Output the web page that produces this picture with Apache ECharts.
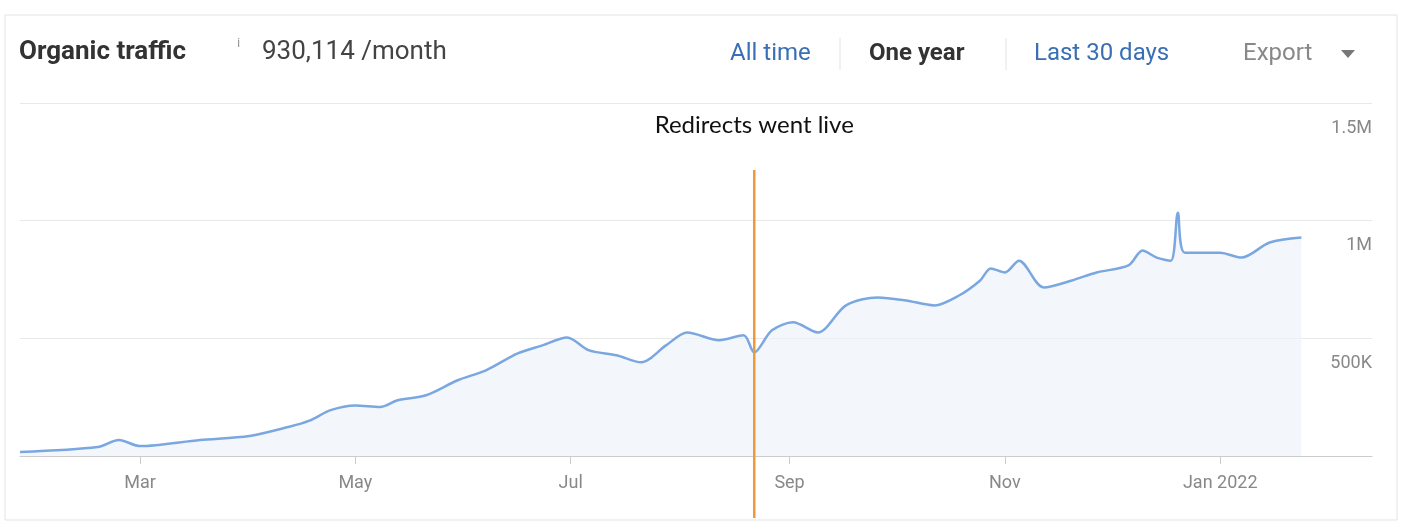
<!DOCTYPE html>
<html><head><meta charset="utf-8">
<script src="https://cdn.jsdelivr.net/npm/echarts@6/dist/echarts.min.js"></script>
<style>html,body{margin:0;background:#fff}#c{width:1406px;height:528px}</style>
</head><body><div id="c"></div>
<script>
const dates = ['2021-01-26','2021-02-17','2021-02-23','2021-03-01','2021-03-18','2021-04-01','2021-04-12','2021-04-18','2021-04-24','2021-05-01','2021-05-08','2021-05-13','2021-05-21','2021-05-30','2021-06-07','2021-06-16','2021-06-23','2021-06-30','2021-07-06','2021-07-14','2021-07-21','2021-07-28','2021-08-03','2021-08-12','2021-08-19','2021-08-22','2021-08-27','2021-09-02','2021-09-09','2021-09-17','2021-09-26','2021-10-04','2021-10-12','2021-10-19','2021-10-25','2021-10-28','2021-11-01','2021-11-05','2021-11-12','2021-11-20','2021-11-27','2021-12-06','2021-12-10','2021-12-14','2021-12-18','2021-12-20','2021-12-22','2022-01-01','2022-01-07','2022-01-15','2022-01-24']
const traffic = [17000,38000,68000,42000,68000,85000,123000,150000,195000,215000,208000,237000,258000,322000,364000,436000,470000,504000,450000,428000,398000,470000,525000,492000,513000,440000,534000,568000,525000,640000,674000,661000,640000,682000,746000,797000,780000,830000,716000,746000,780000,810000,873000,843000,830000,1034000,864000,864000,843000,907000,928000]
const monthTicks = ['2021-03-01','2021-05-01','2021-07-01','2021-09-01','2021-11-01','2022-01-01']
const monthNames = ['Jan','Feb','Mar','Apr','May','Jun','Jul','Aug','Sep','Oct','Nov','Dec']
const eventDate = '2021-08-22'

const ts = d => Date.parse(d + 'T00:00:00Z')
const chart = echarts.init(document.getElementById('c'))
const tickVals = monthTicks.map(ts)
const F = 'Roboto, Arial, sans-serif'

chart.setOption({
  animation: false,
  grid: { left: 20, right: 34, top: 103, bottom: 72 },
  xAxis: {
    type: 'value',
    min: ts('2021-01-26'),
    max: ts('2022-02-13'),
    axisLine: { lineStyle: { color: '#ccc' } },
    axisTick: { customValues: tickVals, length: 8, lineStyle: { color: '#ccc' } },
    axisLabel: {
      customValues: tickVals, color: '#888', fontSize: 18, fontFamily: F, margin: 18,
      formatter: v => { const d = new Date(v); return d.getUTCMonth() === 0 ? 'Jan ' + d.getUTCFullYear() : monthNames[d.getUTCMonth()] }
    },
    splitLine: { show: false }
  },
  yAxis: {
    type: 'value', position: 'right', min: 0, max: 1500000, interval: 500000,
    axisLine: { show: false }, axisTick: { show: false },
    splitLine: { lineStyle: { color: '#e8e8e8' } },
    axisLabel: {
      inside: true, margin: 0, verticalAlign: 'top', padding: [16, 0, 0, 0],
      color: '#888', fontSize: 18, fontFamily: F,
      formatter: v => v === 0 ? '' : v >= 1000000 ? (v / 1000000) + 'M' : (v / 1000) + 'K'
    }
  },
  series: [{
    type: 'line', smooth: 0.3, symbol: 'none',
    data: dates.map((d, i) => [ts(d), traffic[i]]),
    lineStyle: { color: '#7ba7e0', width: 2.5 },
    areaStyle: { color: '#eef4fb' }
  }]
})

const ex = chart.convertToPixel({ xAxisIndex: 0 }, ts(eventDate))
chart.setOption({
  graphic: [
    { type: 'rect', shape: { x: 5, y: 15, width: 1392, height: 505 }, style: { fill: 'none', stroke: '#e3e3e3', lineWidth: 1 }, silent: true },
    { type: 'line', shape: { x1: ex, y1: 170, x2: ex, y2: 518 }, style: { stroke: '#ef9a3a', lineWidth: 2.5 }, z: 100 },
    { type: 'text', x: ex, y: 125, style: { text: 'Redirects went live', fontSize: 24, fontFamily: 'Lato, sans-serif', fill: '#111', align: 'center', verticalAlign: 'middle' } },
    { type: 'text', x: 19, y: 52, style: { text: 'Organic traffic', fontSize: 26, fontWeight: 'bold', fontFamily: F, fill: '#333', verticalAlign: 'middle' } },
    { type: 'text', x: 237, y: 44, style: { text: 'i', fontSize: 13, fontFamily: F, fill: '#999', verticalAlign: 'middle' } },
    { type: 'text', x: 262, y: 52, style: { text: '930,114 /month', fontSize: 26, fontFamily: F, fill: '#444', verticalAlign: 'middle' } },
    { type: 'text', x: 730, y: 54, style: { text: 'All time', fontSize: 24, fontFamily: F, fill: '#3a6fb5', verticalAlign: 'middle' } },
    { type: 'line', shape: { x1: 840, y1: 38, x2: 840, y2: 70 }, style: { stroke: '#e3e3e3' } },
    { type: 'text', x: 869, y: 54, style: { text: 'One year', fontSize: 24, fontWeight: 'bold', fontFamily: F, fill: '#333', verticalAlign: 'middle' } },
    { type: 'line', shape: { x1: 1006, y1: 38, x2: 1006, y2: 70 }, style: { stroke: '#e3e3e3' } },
    { type: 'text', x: 1034, y: 54, style: { text: 'Last 30 days', fontSize: 24, fontFamily: F, fill: '#3a6fb5', verticalAlign: 'middle' } },
    { type: 'text', x: 1243, y: 54, style: { text: 'Export', fontSize: 24, fontFamily: F, fill: '#888', verticalAlign: 'middle' } },
    { type: 'polygon', shape: { points: [[1341, 50], [1355, 50], [1348, 58]] }, style: { fill: '#777' } }
  ]
})
</script></body></html>
